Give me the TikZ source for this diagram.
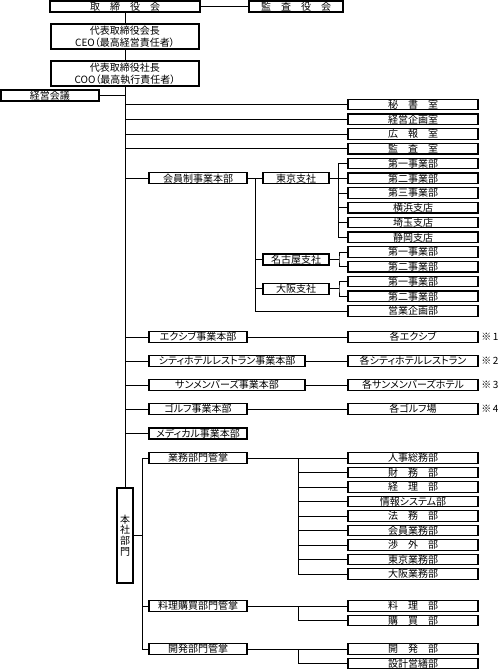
\documentclass[tikz,border=0pt]{standalone}
\usepackage{fontspec}
\setmainfont{Noto Sans CJK JP}[RawFeature=+palt]

\begin{document}
\begin{tikzpicture}[x=0.75pt, y=-0.75pt,
  hako/.style={draw, line width=0.9pt, inner sep=0pt, minimum height=7.9pt,
               align=center, font=\fontsize{7.5}{9}\selectfont},
  migi/.style={hako, minimum width=97.5pt},
  honbu/.style={hako, minimum width=73.5pt, minimum height=8.25pt},
  nagai/.style={hako, minimum width=117pt, minimum height=8.25pt},
  shisha/.style={hako, minimum width=49.5pt, minimum height=8.25pt},
  chu/.style={inner sep=0pt, anchor=west, font=\fontsize{7.5}{9}\selectfont},
  sen/.style={line width=0.75pt}
]
\useasboundingbox (0,0) rectangle (499,669);
% top
\node[hako, minimum width=112.5pt, minimum height=8.25pt] (torishimari) at (125,6.5) {取　締　役　会};
\node[hako, minimum width=70.5pt, minimum height=8.25pt] (kansayaku) at (296,6.5) {監　査　役　会};
\node[hako, minimum width=111pt, minimum height=18.75pt] (kaicho) at (125,36.5) {代表取締役会長\\CEO（最高経営責任者）};
\node[hako, minimum width=111pt, minimum height=18.75pt] (shacho) at (125,73.5) {代表取締役社長\\COO（最高執行責任者）};
\node[honbu] (keieikaigi) at (50,95.5) {経営会議};
% right column
\node[migi] (hisho)  at (413,104.5)  {秘　書　室};
\node[migi] (kikaku) at (413,119.25) {経営企画室};
\node[migi] (koho)   at (413,134)    {広　報　室};
\node[migi] (kansa)  at (413,148.75) {監　査　室};
\node[migi] (t1) at (413,163.5)  {第一事業部};
\node[migi] (t2) at (413,178.25) {第二事業部};
\node[migi] (t3) at (413,193)    {第三事業部};
\node[migi] (t4) at (413,207.75) {横浜支店};
\node[migi] (t5) at (413,222.5)  {埼玉支店};
\node[migi] (t6) at (413,237.25) {静岡支店};
\node[migi] (n1) at (413,252)    {第一事業部};
\node[migi] (n2) at (413,266.75) {第二事業部};
\node[migi] (o1) at (413,281.5)  {第一事業部};
\node[migi] (o2) at (413,296.25) {第二事業部};
\node[migi] (eigyo) at (413,311) {営業企画部};
% membership division
\node[honbu]  (kaiin)  at (198,178.25) {会員制事業本部};
\node[shisha] (tokyo)  at (296,178.25) {東京支社};
\node[shisha] (nagoya) at (296,259.4)  {名古屋支社};
\node[shisha] (osaka)  at (296,288.9)  {大阪支社};
% business divisions
\node[honbu] (exiv)    at (198,337) {エクシブ事業本部};
\node[nagai] (city)    at (227,361) {シティホテルレストラン事業本部};
\node[nagai] (sun)     at (227,385) {サンメンバーズ事業本部};
\node[honbu] (golf)    at (198,409) {ゴルフ事業本部};
\node[honbu] (medical) at (198,433.5) {メディカル事業本部};
\node[migi] (kakuexiv) at (413,337) {各エクシブ};
\node[migi] (kakucity) at (413,361) {各シティホテルレストラン};
\node[migi] (kakusun)  at (413,385) {各サンメンバーズホテル};
\node[migi] (kakugolf) at (413,409) {各ゴルフ場};
\node[chu] (chu1) at (481,337) {※\,1};
\node[chu] (chu2) at (481,361) {※\,2};
\node[chu] (chu3) at (481,385) {※\,3};
\node[chu] (chu4) at (481,409) {※\,4};
% head office
\node[hako, minimum width=12pt, minimum height=71.25pt, font=\fontsize{7.5}{8}\selectfont] (honsha) at (125,535.5) {本\\社\\部\\門};
\node[honbu] (gyomu)    at (198,458) {業務部門管掌};
\node[honbu] (ryori)    at (198,606) {料理購買部門管掌};
\node[honbu] (kaihatsu) at (198,649) {開発部門管掌};
\node[migi] (jinji)   at (413,458)   {人事総務部};
\node[migi] (zaimu)   at (413,472.5) {財　務　部};
\node[migi] (keiri)   at (413,487)   {経　理　部};
\node[migi] (joho)    at (413,501.5) {情報システム部};
\node[migi] (homu)    at (413,516)   {法　務　部};
\node[migi] (kaigyo)  at (413,530.5) {会員業務部};
\node[migi] (shogai)  at (413,545)   {渉　外　部};
\node[migi] (tkgyo)   at (413,559.5) {東京業務部};
\node[migi] (osgyo)   at (413,574)   {大阪業務部};
\node[migi] (ryoribu) at (413,606)   {料　理　部};
\node[migi] (kobai)   at (413,620.5) {購　買　部};
\node[migi] (kaihatsubu) at (413,649) {開　発　部};
\node[migi] (sekkei)  at (413,663.5) {設計営繕部};
% spines
\coordinate (jk) at (255,178.25);
\coordinate (tk) at (338,178.25);
\coordinate (nk) at (339,259.4);
\coordinate (ok) at (339,288.9);
\coordinate (sk) at (142,458);
\coordinate (gk) at (298,458);
\coordinate (rk) at (298,606);
\coordinate (hk) at (298,649);
% lines
\draw[sen] (torishimari) -- (kansayaku);
\draw[sen] (torishimari) -- (kaicho);
\draw[sen] (kaicho) -- (shacho);
\draw[sen] (shacho.south) -- (honsha.north);
\draw[sen] (keieikaigi.east) -- (keieikaigi.east -| shacho.south);
\draw[sen] (hisho.west -| shacho.south) -- (hisho.west);
\draw[sen] (kikaku.west -| shacho.south) -- (kikaku.west);
\draw[sen] (koho.west -| shacho.south) -- (koho.west);
\draw[sen] (kansa.west -| shacho.south) -- (kansa.west);
\draw[sen] (kaiin.west -| shacho.south) -- (kaiin.west);
\draw[sen] (exiv.west -| shacho.south) -- (exiv.west);
\draw[sen] (city.west -| shacho.south) -- (city.west);
\draw[sen] (sun.west -| shacho.south) -- (sun.west);
\draw[sen] (golf.west -| shacho.south) -- (golf.west);
\draw[sen] (medical.west -| shacho.south) -- (medical.west);
\draw[sen] (kaiin) -- (tokyo);
\draw[sen] (jk) -- (jk |- eigyo.west) -- (eigyo.west);
\draw[sen] (jk |- nagoya.west) -- (nagoya.west);
\draw[sen] (jk |- osaka.west) -- (osaka.west);
\draw[sen] (tokyo) -- (t2);
\draw[sen] (tk |- t1.west) -- (tk |- t6.west);
\draw[sen] (tk |- t1.west) -- (t1.west);
\draw[sen] (tk |- t3.west) -- (t3.west);
\draw[sen] (tk |- t4.west) -- (t4.west);
\draw[sen] (tk |- t5.west) -- (t5.west);
\draw[sen] (tk |- t6.west) -- (t6.west);
\draw[sen] (nagoya.east) -- (nk);
\draw[sen] (n1.west) -| (nk) |- (n2.west);
\draw[sen] (osaka.east) -- (ok);
\draw[sen] (o1.west) -| (ok) |- (o2.west);
\draw[sen] (exiv) -- (kakuexiv);
\draw[sen] (city) -- (kakucity);
\draw[sen] (sun) -- (kakusun);
\draw[sen] (golf) -- (kakugolf);
\draw[sen] (honsha.east) -- (honsha.east -| sk);
\draw[sen] (gyomu.west) -- (sk) -- (sk |- kaihatsu.west) -- (kaihatsu.west);
\draw[sen] (sk |- ryori.west) -- (ryori.west);
\draw[sen] (gyomu) -- (jinji);
\draw[sen] (gk) -- (gk |- osgyo.west) -- (osgyo.west);
\draw[sen] (gk |- zaimu.west) -- (zaimu.west);
\draw[sen] (gk |- keiri.west) -- (keiri.west);
\draw[sen] (gk |- joho.west) -- (joho.west);
\draw[sen] (gk |- homu.west) -- (homu.west);
\draw[sen] (gk |- kaigyo.west) -- (kaigyo.west);
\draw[sen] (gk |- shogai.west) -- (shogai.west);
\draw[sen] (gk |- tkgyo.west) -- (tkgyo.west);
\draw[sen] (ryori) -- (ryoribu);
\draw[sen] (rk) -- (rk |- kobai.west) -- (kobai.west);
\draw[sen] (kaihatsu) -- (kaihatsubu);
\draw[sen] (hk) -- (hk |- sekkei.west) -- (sekkei.west);
\end{tikzpicture}
\end{document}
